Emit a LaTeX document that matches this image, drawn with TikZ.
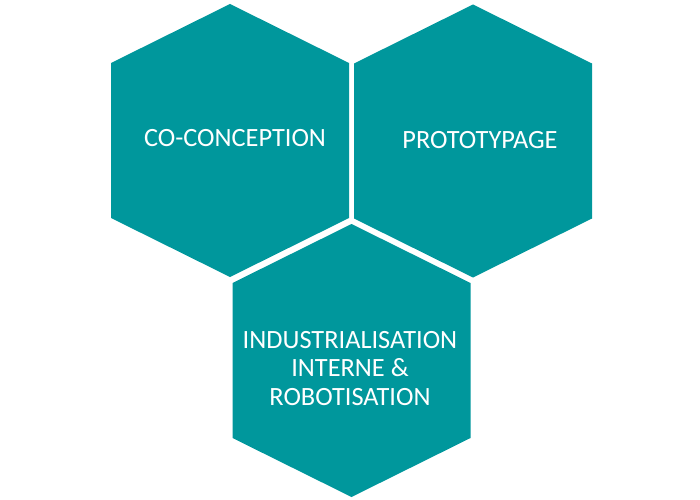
\documentclass[tikz,border=0pt]{standalone}
\usepackage{fontspec}
\setmainfont{Carlito}
\usepackage{tikz}
\usetikzlibrary{positioning}
\definecolor{Teal}{HTML}{00979C}

\begin{document}
\begin{tikzpicture}[x=0.02cm,y=-0.02cm,
    hexlabel/.style={color=white,font=\fontsize{15}{16.2}\selectfont,align=center,inner sep=0pt}]
        \useasboundingbox (0,0) rectangle (700,500);
        \foreach \x/\y in {230/140.5,473/141,351.5/360.5}
          \fill[Teal] (\x,\y) ++(0,-136.5) -- ++(119,59) -- ++(0,155) -- ++(-119,59) -- ++(-119,-59) -- ++(0,-155) -- cycle;
        \node[hexlabel] (coconception) at (235,138) {CO-CONCEPTION};
        \node[hexlabel] (prototypage) at (480,140) {PROTOTYPAGE};
        \node[hexlabel] (industrialisation) at (350,368.5) {INDUSTRIALISATION\\INTERNE \&\\ROBOTISATION};
      \end{tikzpicture}
\end{document}
